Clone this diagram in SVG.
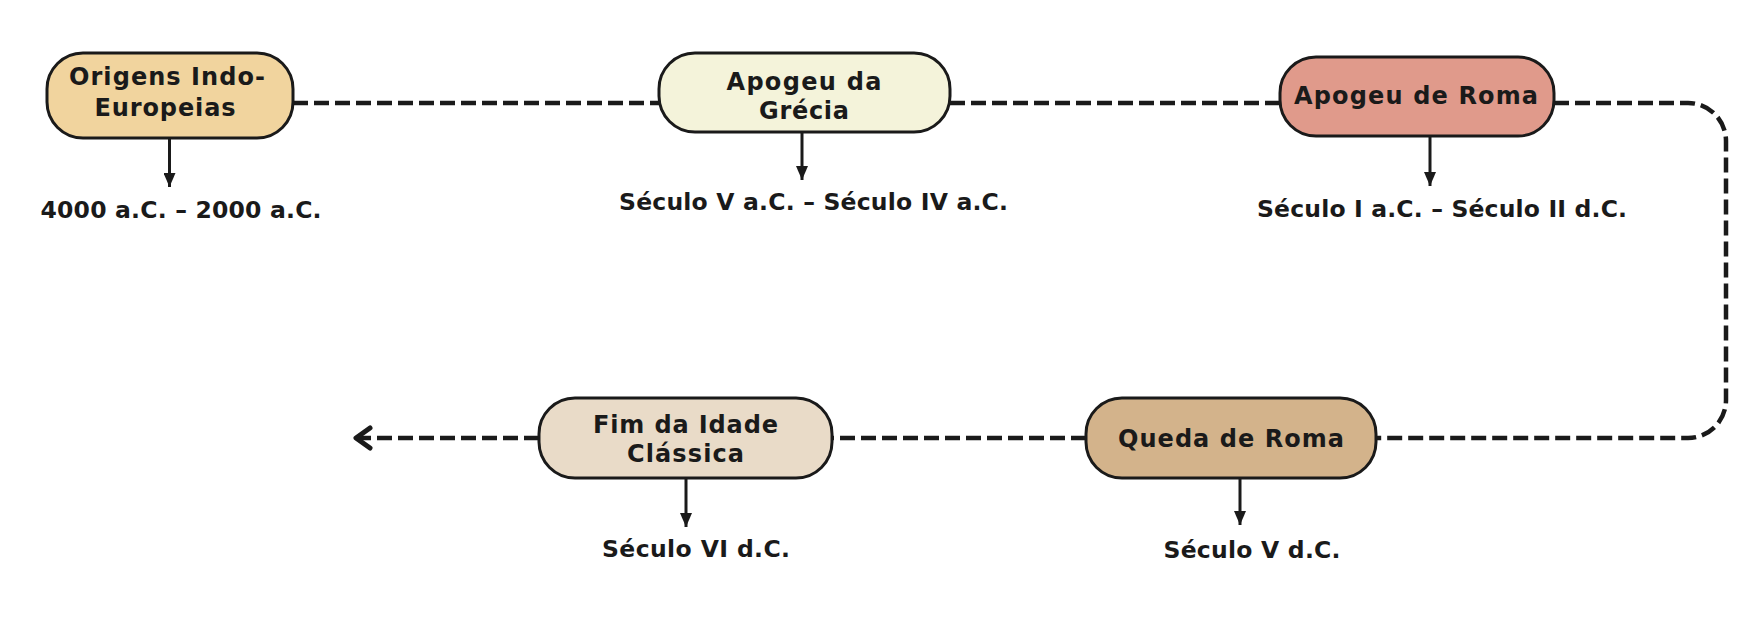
<svg xmlns="http://www.w3.org/2000/svg" width="1760" height="622" viewBox="0 0 1760 622">
<defs>
<marker id="ah" markerUnits="userSpaceOnUse" markerWidth="16" markerHeight="12" refX="14" refY="6" orient="auto">
<path d="M0,0 L14,6 L0,12 Z" fill="#1a1a1a"/>
</marker>
<style>
.node{stroke:#1a1a1a;stroke-width:3}
.nt{font-family:"DejaVu Sans","Noto Sans",sans-serif;font-weight:700;font-size:24px;fill:#1a1a1a;text-anchor:middle}
.dt{font-family:"DejaVu Sans","Noto Sans",sans-serif;font-weight:700;font-size:23.5px;fill:#1a1a1a;text-anchor:middle}
.dash{fill:none;stroke:#1a1a1a;stroke-width:4.5;stroke-dasharray:15 6}
.down{stroke:#1a1a1a;stroke-width:3;fill:none}
</style>
</defs>
<rect width="1760" height="622" fill="#ffffff"/>
<g id="connectors">
<path class="dash" d="M293,103 H659"/>
<path class="dash" d="M950,103 H1281"/>
<path class="dash" d="M1554,103 H1688 A38,38 0 0 1 1726,141 V400 A38,38 0 0 1 1688,438 H1376"/>
<path class="dash" d="M1086,438 H832"/>
<path class="dash" d="M539,438 H360"/>
<path d="M370,428 L356,438 L370,448" fill="none" stroke="#1a1a1a" stroke-width="5" stroke-linecap="round" stroke-linejoin="round"/>
<line class="down" x1="169.5" y1="138" x2="169.5" y2="187" marker-end="url(#ah)"/>
<line class="down" x1="802" y1="132" x2="802" y2="180" marker-end="url(#ah)"/>
<line class="down" x1="1430" y1="136" x2="1430" y2="186" marker-end="url(#ah)"/>
<line class="down" x1="1240" y1="478" x2="1240" y2="525" marker-end="url(#ah)"/>
<line class="down" x1="686" y1="478" x2="686" y2="527" marker-end="url(#ah)"/>
</g>
<g id="n1">
<rect class="node" x="47" y="53" width="246" height="85" rx="36" fill="#F1D49E"/>
<text class="nt" x="167" y="85" textLength="196">Origens Indo-</text>
<text class="nt" x="165" y="116" textLength="141">Europeias</text>
<text class="dt" x="181" y="218" textLength="281">4000 a.C. – 2000 a.C.</text>
</g>
<g id="n2">
<rect class="node" x="659" y="53" width="291" height="79" rx="36" fill="#F4F3DA"/>
<text class="nt" x="804" y="90" textLength="155">Apogeu da</text>
<text class="nt" x="804" y="119" textLength="90">Grécia</text>
<text class="dt" x="813.5" y="210" textLength="389">Século V a.C. – Século IV a.C.</text>
</g>
<g id="n3">
<rect class="node" x="1280" y="57" width="274" height="79" rx="36" fill="#E09A8B"/>
<text class="nt" x="1416" y="104" textLength="244">Apogeu de Roma</text>
<text class="dt" x="1442" y="217" textLength="370">Século I a.C. – Século II d.C.</text>
</g>
<g id="n4">
<rect class="node" x="1086" y="398" width="290" height="80" rx="36" fill="#D3B38B"/>
<text class="nt" x="1231" y="447" textLength="226">Queda de Roma</text>
<text class="dt" x="1252" y="558" textLength="177">Século V d.C.</text>
</g>
<g id="n5">
<rect class="node" x="539" y="398" width="293" height="80" rx="36" fill="#E9DBC8"/>
<text class="nt" x="685.5" y="433" textLength="185">Fim da Idade</text>
<text class="nt" x="685.5" y="462" textLength="117">Clássica</text>
<text class="dt" x="696" y="557" textLength="188">Século VI d.C.</text>
</g>
</svg>
